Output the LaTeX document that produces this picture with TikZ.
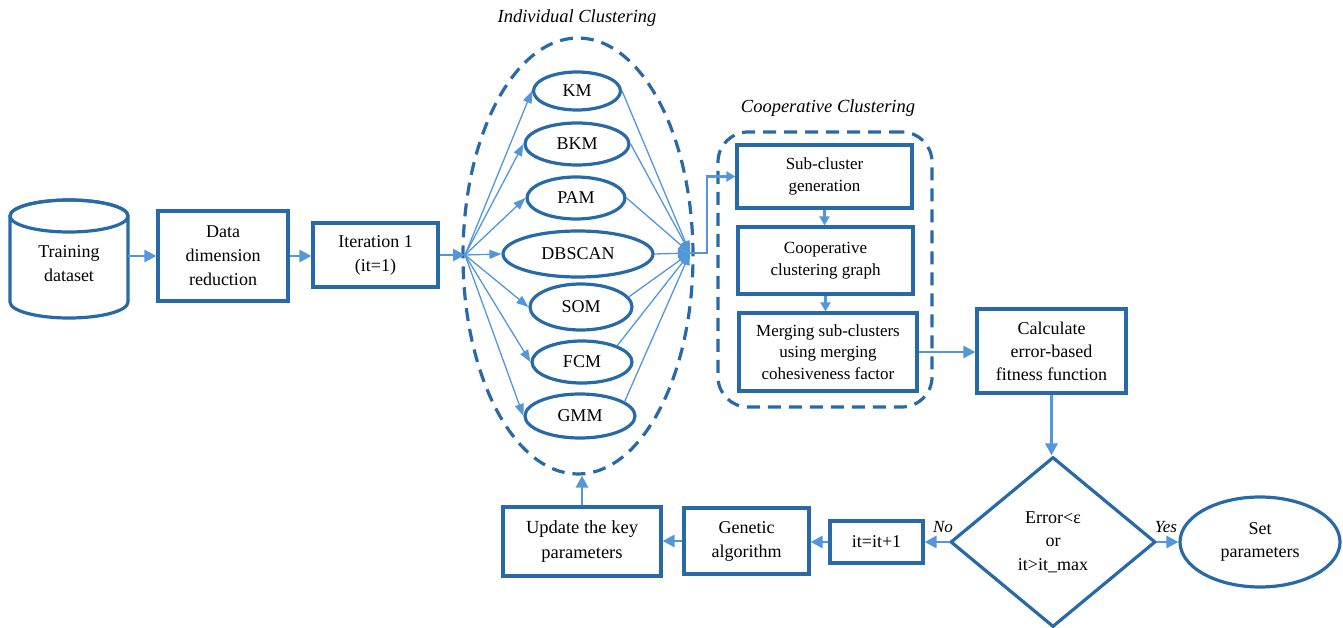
\documentclass[tikz,border=0pt]{standalone}
\usepackage{fontspec}
\setmainfont{Liberation Serif}
\usetikzlibrary{shapes.geometric,arrows.meta}
\definecolor{bdr}{RGB}{40,106,168}
\definecolor{arw}{RGB}{83,151,218}
\begin{document}
\begin{tikzpicture}[x=1pt,y=-1pt,
 box/.style={draw=bdr, line width=3.2pt, fill=white, align=center, inner sep=2pt},
 ell/.style={ellipse, draw=bdr, line width=3.2pt, fill=white, inner sep=0pt, align=center, font=\fontsize{18}{23}\selectfont},
 arr/.style={draw=arw, line width=2.8pt, -{Triangle[length=12pt,width=12pt]}},
 sarr/.style={draw=arw, line width=2.4pt, -{Triangle[length=9pt,width=10pt]}},
 fan/.style={draw=arw, line width=1.3pt, -{Triangle[length=12pt,width=9pt]}},
 grp/.style={draw=bdr, line width=3.2pt, dash pattern=on 13pt off 8pt},
 ttl/.style={font=\fontsize{18.5}{22}\selectfont\itshape},
 lbl/.style={font=\fontsize{17}{20}\selectfont\itshape},
 tA/.style={font=\fontsize{18}{24}\selectfont},
 tB/.style={font=\fontsize{17}{22}\selectfont},
]
\useasboundingbox (0,0) rectangle (1343,628);

% cylinder
\path[draw=bdr, line width=3.2pt, fill=white] (10,216) -- (10,302)
  arc[start angle=180, end angle=0, x radius=59, y radius=16] -- (128,216)
  arc[start angle=0, end angle=-180, x radius=59, y radius=16] -- cycle;
\draw[bdr, line width=3.2pt] (69,216) ellipse [x radius=59, y radius=16];
\node[tA, align=center, minimum width=118pt, inner sep=0pt] (train) at (69,264) {Training\\dataset};

\node[box, tA, minimum width=130pt, minimum height=90pt] (dimred) at (223,256) {Data\\dimension\\reduction};
\node[box, tA, minimum width=125pt, minimum height=64pt] (iter) at (375.5,255) {Iteration 1\\(it=1)};

% individual clustering
\node[ellipse, grp, minimum width=230pt, minimum height=436pt, inner sep=0pt] (indiv) at (578,256) {};
\node[ttl] (indivT) at (577,18) {Individual Clustering};
\coordinate (split) at (465,255);
\coordinate (merge) at (690,253);

\node[ell, minimum width=87pt, minimum height=38pt] (km) at (577,91) {KM};
\node[ell, minimum width=104pt, minimum height=42pt] (bkm) at (577,144) {BKM};
\node[ell, minimum width=98pt, minimum height=42pt] (pam) at (576,198) {PAM};
\node[ell, minimum width=150pt, minimum height=46pt] (dbs) at (578,254) {DBSCAN};
\node[ell, minimum width=102pt, minimum height=46pt] (som) at (581,307) {SOM};
\node[ell, minimum width=100pt, minimum height=42pt] (fcm) at (582,362) {FCM};
\node[ell, minimum width=110pt, minimum height=44pt] (gmm) at (580,416) {GMM};

\foreach \n in {km,bkm,pam,dbs,som,fcm,gmm}{
  \draw[fan] (split) -- (\n.west);
}
\draw[fan] (km.east) -- (merge);
\draw[fan] (bkm.east) -- (merge);
\draw[fan] (pam.east) -- (merge);
\draw[fan] (dbs.east) -- (merge);
\draw[fan] (som.12) -- (merge);
\draw[fan] (fcm.25) -- (merge);
\draw[fan] (gmm.18) -- (merge);

% cooperative clustering
\node[grp, rounded corners=30pt, minimum width=214pt, minimum height=275pt, inner sep=0pt] (coop) at (825,269.5) {};
\node[ttl] (coopT) at (828,108) {Cooperative Clustering};
\node[box, tB, minimum width=175pt, minimum height=63pt] (sub) at (824.5,176.5) {Sub-cluster\\generation};
\node[box, tB, minimum width=175pt, minimum height=67pt] (graph) at (825.5,260.5) {Cooperative\\clustering graph};
\node[box, font=\fontsize{17}{21.7}\selectfont, minimum width=178pt, minimum height=78pt] (mergeb) at (828,352) {Merging sub-clusters\\using merging\\cohesiveness factor};
\node[box, font=\fontsize{18}{23}\selectfont, minimum width=149pt, minimum height=84pt] (calc) at (1051.5,351) {Calculate\\error-based\\fitness function};

% bottom row
\node[diamond, draw=bdr, line width=3.2pt, fill=white, minimum width=205pt, minimum height=170pt, inner sep=0pt, aspect=1.2, align=center, font=\fontsize{18}{23.5}\selectfont] (dia) at (1053,542) {Error<ε\\or\\it>it\_max};
\node[ell, minimum width=160pt, minimum height=90pt] (setp) at (1260,542) {Set\\parameters};
\node[box, tA, minimum width=93pt, minimum height=42pt] (itp) at (876.5,542) {it=it+1};
\node[box, tA, minimum width=125pt, minimum height=66pt] (gen) at (746.5,541) {Genetic\\algorithm};
\node[box, font=\fontsize{18.5}{25}\selectfont, minimum width=158pt, minimum height=69pt] (upd) at (582,541.5) {Update the key\\parameters};
\node[lbl] (no) at (943,527) {No};
\node[lbl] (yes) at (1166,527) {Yes};

% connectors
\draw[arr] (train.east |- dimred.west) -- (dimred.west);
\draw[arr] (dimred.east) -- (dimred.east -| iter.west);
\draw[arr] (iter.east) -- (split);
\draw[sarr] (merge) -- ++(17,0) |- (sub.west);
\draw[sarr] (sub.south) -- (sub.south |- graph.north);
\draw[sarr] (graph.south) -- (graph.south |- mergeb.north);
\draw[arr] (mergeb.east) -- (mergeb.east -| calc.west);
\draw[arr] (calc.south) -- (calc.south |- dia.north);
\draw[arr] (dia.east) -- (setp.west);
\draw[arr] (dia.west) -- (itp.east);
\draw[arr] (itp.west) -- (itp.west -| gen.east);
\draw[arr] (gen.west) -- (gen.west -| upd.east);
\draw[arr] (upd.north) -- (upd.north |- indiv.south);
\end{tikzpicture}
\end{document}
